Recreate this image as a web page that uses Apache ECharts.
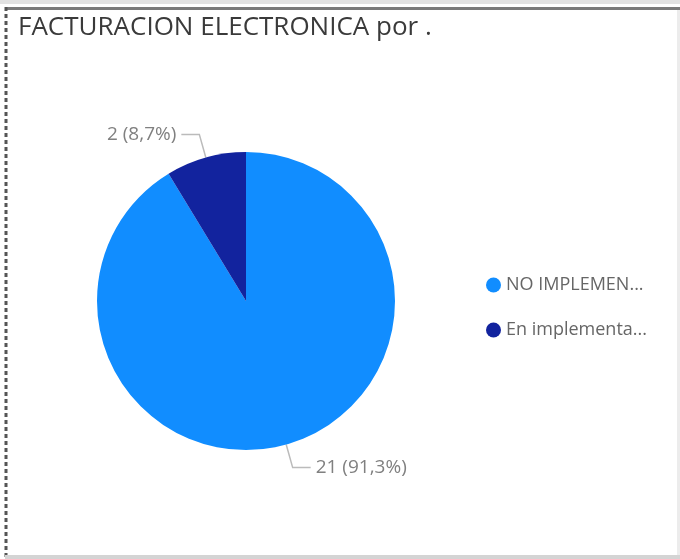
<!DOCTYPE html>
<html>
<head>
<meta charset="utf-8">
<script src="https://cdn.jsdelivr.net/npm/echarts@6/dist/echarts.min.js"></script>
<style>
    html, body { margin: 0; padding: 0; background: #fff; }
    #chart { width: 680px; height: 559px; }
</style>
</head>
<body>
<div id="chart"></div>
<script>
    // datos
    var categorias = ['NO IMPLEMENTADO', 'En implementación'];
    var valores = [21, 2];
    var colores = ['#118DFF', '#12239E'];
    var titulo = 'FACTURACION ELECTRONICA por .';

    var myChart = echarts.init(document.getElementById('chart'));
    var option;
    option = {
        animation: false,
        title: {
            text: titulo,
            left: 13,
            top: 10,
            textStyle: {
                fontFamily: 'Open Sans',
                fontSize: 26,
                fontWeight: 'normal',
                color: '#3a3a3a'
            }
        },
        legend: {
            orient: 'vertical',
            left: 481,
            top: 271,
            itemGap: 27,
            icon: 'circle',
            itemWidth: 15,
            itemHeight: 15,
            data: categorias,
            textStyle: {
                fontFamily: 'Open Sans',
                fontSize: 18,
                color: '#666',
                width: 146,
                overflow: 'truncate',
                ellipsis: '...'
            }
        },
        graphic: [
            {type: 'rect', shape: {x: 0, y: 0, width: 680, height: 4}, style: {fill: '#e2e2e2'}},
            {type: 'rect', shape: {x: 5, y: 7, width: 675, height: 3}, style: {fill: '#7a7a7a'}},
            {type: 'line', shape: {x1: 6, y1: 7, x2: 6, y2: 559}, style: {stroke: '#555', lineWidth: 3, lineDash: [4, 3]}},
            {type: 'rect', shape: {x: 677, y: 10, width: 3, height: 549}, style: {fill: '#ececec'}},
            {type: 'rect', shape: {x: 5, y: 555, width: 675, height: 4}, style: {fill: '#d4d4d4'}}
        ],
        series: [
            {
                type: 'pie',
                center: [246, 301],
                radius: 149,
                startAngle: 90,
                clockwise: true,
                data: categorias.map(function (c, i) {
                    return {name: c, value: valores[i], itemStyle: {color: colores[i]}}
                }),
                label: {
                    fontFamily: 'Open Sans',
                    fontSize: 19,
                    color: '#808080',
                    formatter: function (p) {
                        return p.value + ' (' + p.percent.toFixed(1).replace('.', ',') + '%)'
                    }
                },
                labelLine: {
                    length: 24,
                    length2: 18,
                    lineStyle: {color: '#bbb', width: 1.5}
                },
                emphasis: {disabled: true}
            }
        ]
    };
    option && myChart.setOption(option);
</script>
</body>
</html>
